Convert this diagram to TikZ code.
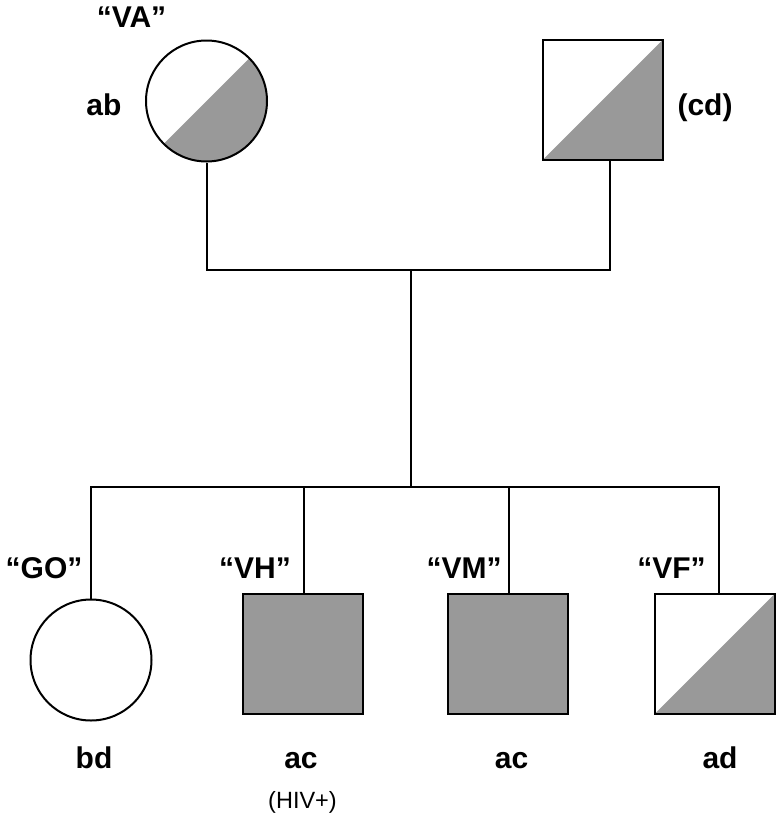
\documentclass[tikz,border=0pt]{standalone}
\usepackage{fontspec}
\setmainfont{Liberation Sans}
\definecolor{affgray}{RGB}{153,153,153}
\begin{document}
\begin{tikzpicture}[x=1pt,y=-1pt,
  line width=2pt,
  lbl/.style={font=\fontsize{30}{34}\selectfont\bfseries, inner sep=0pt, anchor=base},
  note/.style={font=\fontsize{23.5}{27}\selectfont, inner sep=0pt, anchor=base},
  fem/.style={draw, circle, minimum size=121pt, inner sep=0pt, fill=white},
  mal/.style={draw, rectangle, minimum size=120pt, inner sep=0pt, fill=white},
  half/.style={path picture={\fill[affgray] (path picture bounding box.south west) -- (path picture bounding box.south east) -- (path picture bounding box.north east) -- cycle;}},
  full/.style={fill=affgray}]
\useasboundingbox (0,0) rectangle (777,814);
% parents
\node[fem, half] (va) at (206.5,101) {};
\node[mal, half] (cd) at (603,99.5) {};
\coordinate (m) at (411,270);
\coordinate (s) at (411,487);
% children
\node[fem] (go) at (91,660) {};
\node[mal, full] (vh) at (303,653.5) {};
\node[mal, full] (vm) at (507.5,653.5) {};
\node[mal, half] (vf) at (715,653.5) {};
% connectors
\draw (va.south) |- (m) -| ([xshift=7pt]cd.south);
\draw (m) -- (s);
\draw (go.north) |- (s) -| ([xshift=4pt]vf.north);
\draw ([xshift=1pt]vh.north) -- ([xshift=1pt]vh.north |- s);
\draw ([xshift=1.5pt]vm.north) -- ([xshift=1.5pt]vm.north |- s);
% labels
\node[lbl] (tva) at (131.5,27) {“VA”};
\node[lbl] (tab) at (104,115) {ab};
\node[lbl] (tcd) at (705,115) {(cd)};
\node[lbl] (tgo) at (44,578) {“GO”};
\node[lbl] (tvh) at (255,578) {“VH”};
\node[lbl] (tvm) at (464,578) {“VM”};
\node[lbl] (tvf) at (671.5,578) {“VF”};
\node[lbl] (tbd) at (94,768) {bd};
\node[lbl] (tac1) at (301,768) {ac};
\node[lbl] (tac2) at (511.5,768) {ac};
\node[lbl] (tad) at (720,768) {ad};
\node[note] (thiv) at (302.5,808) {(HIV+)};
\end{tikzpicture}
\end{document}
